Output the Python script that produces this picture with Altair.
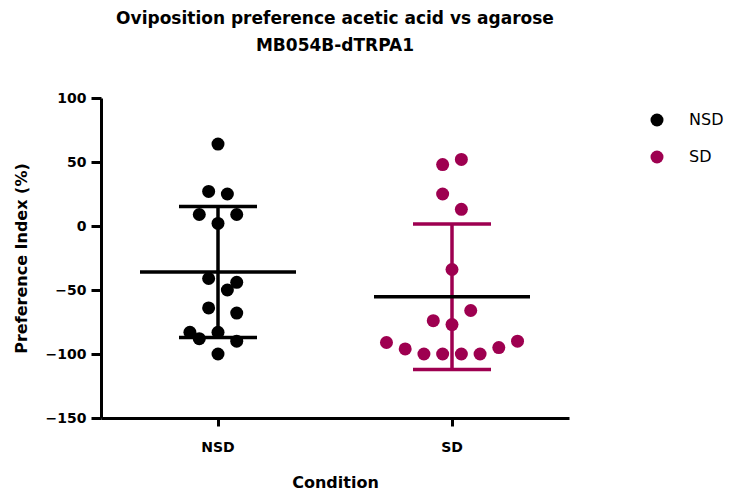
import altair as alt
import pandas as pd

# ---- data ----
groups = ["NSD", "SD"]
nsd_values = [64, 27, 25, 9, 9, 2, -41, -44, -50, -64, -68, -83, -88, -83, -90, -100]
nsd_offsets = [0, -1, 1, -2, 2, 0, -1, 2, 1, -1, 2, -3, -2, 0, 2, 0]
sd_values = [48, 52, 25, 13, -34, -66, -74, -77, -91, -96, -100, -100, -100, -100, -95, -90]
sd_offsets = [-1, 1, -1, 1, 0, 2, -2, 0, -7, -5, -3, -1, 1, 3, 5, 7]
y_ticks = [-150, -100, -50, 0, 50, 100]
colors = ["#000000", "#9E0050"]

points = pd.DataFrame({
    "Condition": ["NSD"] * len(nsd_values) + ["SD"] * len(sd_values),
    "Value": nsd_values + sd_values,
    "Offset": nsd_offsets + sd_offsets,
})
stats = points.groupby("Condition")["Value"].agg(["mean", "std"]).reset_index()
stats["lo"] = stats["mean"] - stats["std"]
stats["hi"] = stats["mean"] + stats["std"]

FONT = "DejaVu Sans"

x_enc = alt.X(
    "Condition:N",
    sort=groups,
    scale=alt.Scale(domain=groups, paddingInner=0, paddingOuter=0),
    axis=alt.Axis(
        title="Condition", labelAngle=0, labelFont=FONT, labelFontSize=14,
        labelFontWeight="bold", labelPadding=14, tickSize=8, tickWidth=3,
        domainWidth=3, domainColor="black", tickColor="black", labelColor="black",
        titleFont=FONT, titleFontSize=16, titleFontWeight="bold", titlePadding=20,
        titleColor="black",
    ),
)
y_scale = alt.Scale(domain=[-150, 100], nice=False, zero=False)
y_axis = alt.Axis(
    title="Preference Index (%)", values=y_ticks, labelFont=FONT, labelFontSize=14,
    labelFontWeight="bold", labelPadding=5, tickSize=10, tickWidth=3, domainWidth=3,
    domainColor="black", tickColor="black", labelColor="black", grid=False,
    titleFont=FONT, titleFontSize=16, titleFontWeight="bold", titlePadding=16,
    titleColor="black",
)
color_scale = alt.Scale(domain=groups, range=colors)

dots = alt.Chart(points).mark_circle(size=169, opacity=1).encode(
    x=x_enc,
    xOffset=alt.XOffset("Offset:Q", scale=alt.Scale(domain=[-12.5, 12.5])),
    y=alt.Y("Value:Q", scale=y_scale, axis=y_axis),
    color=alt.Color(
        "Condition:N", scale=color_scale,
        legend=alt.Legend(
            title=None, orient="none", legendX=548, legendY=14, symbolType="circle",
            symbolSize=169, symbolStrokeWidth=0, labelFont=FONT, labelFontSize=16,
            labelColor="black", labelOffset=24, rowPadding=21, padding=0,
        ),
    ),
)

base = alt.Chart(stats).encode(x=alt.X("Condition:N", sort=groups))

err = base.mark_rule(strokeWidth=3.5, opacity=1).encode(
    y=alt.Y("lo:Q", scale=y_scale), y2="hi:Q",
    color=alt.Color("Condition:N", scale=color_scale, legend=None),
)
caps_lo = base.mark_tick(size=78, thickness=3.5, opacity=1).encode(
    y=alt.Y("lo:Q", scale=y_scale),
    color=alt.Color("Condition:N", scale=color_scale, legend=None),
)
caps_hi = base.mark_tick(size=78, thickness=3.5, opacity=1).encode(
    y=alt.Y("hi:Q", scale=y_scale),
    color=alt.Color("Condition:N", scale=color_scale, legend=None),
)
mean_line = base.mark_tick(size=156, thickness=3.5, color="black", opacity=1).encode(
    y=alt.Y("mean:Q", scale=y_scale),
)

chart = alt.layer(dots, err, caps_lo, caps_hi, mean_line).properties(
    width=468,
    height=320,
    title=alt.TitleParams(
        text=["Oviposition preference acetic acid vs agarose", "MB054B-dTRPA1"],
        font=FONT, fontSize=17, fontWeight="bold", color="black",
        anchor="middle", offset=36, lineHeight=27,
    ),
    autosize=alt.AutoSizeParams(type="none"),
    padding={"left": 93, "top": 90, "right": 164, "bottom": 82},
).configure_view(stroke=None).configure_axisX(domain=True)

chart.save("out.html", embed_options={"renderer": "svg", "actions": False})
